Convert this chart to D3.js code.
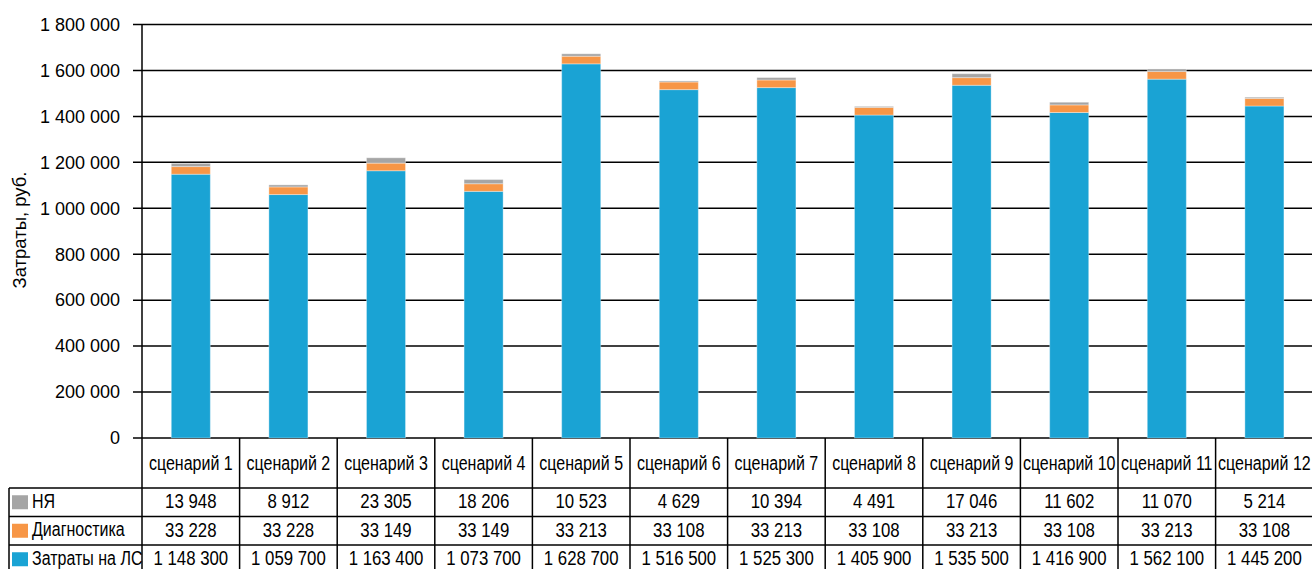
<!DOCTYPE html>
<html>
<head>
<meta charset="utf-8">
<script src="https://cdn.jsdelivr.net/npm/d3@7"></script>
<style>
  html, body { margin: 0; padding: 0; background: #fff; }
  svg { display: block; }
</style>
</head>
<body>
<svg id="chart" width="1312" height="569"></svg>
<script>
// Scenarios along the x axis
const categories = ["сценарий 1", "сценарий 2", "сценарий 3", "сценарий 4", "сценарий 5", "сценарий 6",
                    "сценарий 7", "сценарий 8", "сценарий 9", "сценарий 10", "сценарий 11", "сценарий 12"];

// Cost components, roubles
const costNY   = [13948, 8912, 23305, 18206, 10523, 4629, 10394, 4491, 17046, 11602, 11070, 5214];
const costDiag = [33228, 33228, 33149, 33149, 33213, 33108, 33213, 33108, 33213, 33108, 33213, 33108];
const costDrug = [1148300, 1059700, 1163400, 1073700, 1628700, 1516500, 1525300, 1405900, 1535500, 1416900, 1562100, 1445200];

const seriesNames = ["НЯ", "Диагностика", "Затраты на ЛС"];
const seriesColors = ["#a5a5a5", "#f79646", "#1aa3d4"];

const yTicks = [0, 200000, 400000, 600000, 800000, 1000000, 1200000, 1400000, 1600000, 1800000];
const yTitle = "Затраты, руб.";

// Space as the thousands separator
const ru = d3.formatLocale({ decimal: ",", thousands: " ", grouping: [3], currency: ["", ""] });
const fmt = ru.format(",d");

const svg = d3.select("#chart");

const plotLeft = 142, colW = 97.6;
const plotRight = plotLeft + colW * categories.length;
const yTop = 24.5, yBase = 438;

const y = d3.scaleLinear().domain([0, 1800000]).range([yBase, yTop]);
const xCol = d3.scaleBand().domain(categories).range([plotLeft, plotRight]).padding(0);
const xBar = d3.scaleBand().domain(categories).range([plotLeft, plotRight]).paddingInner(0.6).paddingOuter(0.3);

const baseFont = "'Liberation Sans', Arial, sans-serif";
const condense = 0.8;
const ink = "#000";

// Text drawn in a horizontally condensed face
function narrowText(parent, x, yy, anchor, size, str) {
  return parent.append("text")
    .attr("transform", `translate(${x},${yy}) scale(${condense},1)`)
    .attr("dy", "0.35em")
    .attr("text-anchor", anchor)
    .attr("font-family", baseFont)
    .attr("font-size", size)
    .attr("fill", ink)
    .text(str);
}

// Gridlines with short outer ticks
const grid = svg.append("g");
grid.selectAll("line").data(yTicks).join("line")
  .attr("x1", 133).attr("x2", 1312)
  .attr("y1", d => y(d)).attr("y2", d => y(d))
  .attr("stroke", "#000").attr("stroke-width", 1.5);

// Tick labels
svg.append("g").selectAll("text").data(yTicks).join("text")
  .attr("x", 120).attr("y", d => y(d))
  .attr("dy", "0.35em")
  .attr("text-anchor", "end")
  .attr("font-family", baseFont)
  .attr("font-size", 18)
  .attr("fill", ink)
  .text(d => fmt(d));

// Axis title
svg.append("text")
  .attr("transform", "translate(26,230) rotate(-90)")
  .attr("text-anchor", "middle")
  .attr("font-family", baseFont)
  .attr("font-size", 18.5)
  .attr("fill", ink)
  .text(yTitle);

// Stacked bars: drug costs at the bottom, then diagnostics, then adverse events
const rows = categories.map((c, i) => ({ cat: c, drug: costDrug[i], diag: costDiag[i], ny: costNY[i] }));
const stack = d3.stack().keys(["drug", "diag", "ny"]);
const layers = stack(rows);
const layerColor = { drug: seriesColors[2], diag: seriesColors[1], ny: seriesColors[0] };

const bars = svg.append("g");
layers.forEach(layer => {
  bars.append("g").attr("fill", layerColor[layer.key])
    .selectAll("rect").data(layer).join("rect")
    .attr("x", d => xBar(d.data.cat))
    .attr("width", xBar.bandwidth())
    .attr("y", d => y(d[1]))
    .attr("height", d => y(d[0]) - y(d[1]))
    .attr("stroke", "#ffffff").attr("stroke-opacity", 0.35).attr("stroke-width", 1);
});

// Data table under the plot
const headerTop = yBase, headerBottom = 488;
const rowH = 28.5;
const legendLeft = 9;
const tableRows = [costNY, costDiag, costDrug];

const table = svg.append("g");
const lineStyle = s => s.attr("stroke", "#000").attr("stroke-width", 1.5);

// Vertical rules: plot axis, column separators, legend column
table.append("line").call(lineStyle)
  .attr("x1", plotLeft).attr("x2", plotLeft).attr("y1", yTop).attr("y2", 569);
categories.forEach(c => {
  const xr = xCol(c) + xCol.bandwidth();
  table.append("line").call(lineStyle)
    .attr("x1", xr).attr("x2", xr).attr("y1", headerTop).attr("y2", 569);
});
table.append("line").call(lineStyle)
  .attr("x1", legendLeft).attr("x2", legendLeft).attr("y1", headerBottom).attr("y2", 569);

// Horizontal rules under header and between rows
[0, 1, 2].forEach(r => {
  const yy = headerBottom + r * rowH;
  table.append("line").call(lineStyle)
    .attr("x1", legendLeft).attr("x2", 1312).attr("y1", yy).attr("y2", yy);
});

// Header labels
categories.forEach(c => {
  narrowText(table, xCol(c) + xCol.bandwidth() / 2, (headerTop + headerBottom) / 2, "middle", 20, c);
});

// Legend column and values
tableRows.forEach((vals, r) => {
  const cy = headerBottom + r * rowH + rowH / 2;
  table.append("rect")
    .attr("x", 12).attr("y", cy - 7).attr("width", 16).attr("height", 14)
    .attr("fill", seriesColors[r]);
  narrowText(table, 32, cy - 1.5, "start", 20, seriesNames[r]);
  vals.forEach((v, i) => {
    narrowText(table, xCol(categories[i]) + xCol.bandwidth() / 2, cy - 1.5, "middle", 21, fmt(v));
  });
});
</script>
</body>
</html>
